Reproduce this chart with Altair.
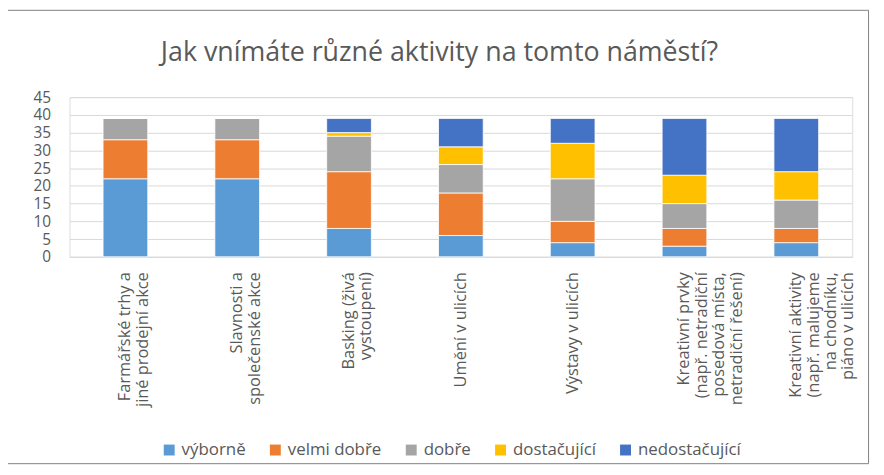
import altair as alt
import pandas as pd

categories = [
    "Farmářské trhy a|jiné prodejní akce",
    "Slavnosti a|společenské akce",
    "Basking (živá|vystoupení)",
    "Umění v ulicích",
    "Výstavy v ulicích",
    "Kreativní prvky|(např. netradiční|posedová místa,|netradiční řešení)",
    "Kreativní aktivity|(např. malujeme|na chodníku,|piáno v ulicích",
]
series_names = ["výborně", "velmi dobře", "dobře", "dostačující", "nedostačující"]
vyborne = [22, 22, 8, 6, 4, 3, 4]
velmi_dobre = [11, 11, 16, 12, 6, 5, 4]
dobre = [6, 6, 10, 8, 12, 7, 8]
dostacujici = [0, 0, 1, 5, 10, 8, 8]
nedostacujici = [0, 0, 4, 8, 7, 16, 15]
colors = ["#5B9BD5", "#ED7D31", "#A5A5A5", "#FFC000", "#4472C4"]
title_text = "Jak vnímáte různé aktivity na tomto náměstí?"

series_values = [vyborne, velmi_dobre, dobre, dostacujici, nedostacujici]
rows = []
for si, (name, vals) in enumerate(zip(series_names, series_values)):
    for cat, v in zip(categories, vals):
        rows.append({"cat": cat, "serie": name, "value": v, "ord": si})
df = pd.DataFrame(rows)

FONT = "Open Sans"
GREY = "#595959"
W, H = 789, 161

bars = alt.Chart(df).mark_bar(stroke="white", strokeWidth=0.8).encode(
    x=alt.X("cat:N", sort=categories, title=None,
            scale=alt.Scale(paddingInner=0.6, paddingOuter=0.3),
            axis=alt.Axis(labelAngle=-90, labelExpr="split(datum.label, '|')",
                          labelFontSize=16.5, labelColor=GREY, labelFont=FONT,
                          labelLineHeight=17.5, labelPadding=15, ticks=False,
                          domainColor="#D9D9D9", domainWidth=1, labelLimit=300)),
    y=alt.Y("value:Q", title=None, stack="zero",
            scale=alt.Scale(domain=[0, 45], nice=False),
            axis=alt.Axis(values=list(range(0, 50, 5)), labelFontSize=15.5,
                          labelColor=GREY, labelFont=FONT, labelPadding=19,
                          ticks=False, domain=False, gridColor="#D9D9D9",
                          gridWidth=1)),
    color=alt.Color("serie:N", sort=series_names,
                    scale=alt.Scale(domain=series_names, range=colors),
                    legend=alt.Legend(orient="none", direction="horizontal",
                                      legendX=92, legendY=347, title=None,
                                      symbolType="square", symbolSize=121,
                                      symbolStrokeWidth=0, labelFontSize=17,
                                      labelFont=FONT, labelColor=GREY,
                                      labelOffset=4, columnPadding=21,
                                      padding=0)),
    order=alt.Order("ord:Q", sort="ascending"),
)

title = alt.Chart(alt.Data(values=[{"t": title_text}])).mark_text(
    font=FONT, fontSize=27, color=GREY, align="center", baseline="alphabetic"
).encode(x=alt.value(373), y=alt.value(-36), text="t:N")

border = alt.Chart(alt.Data(values=[{}])).mark_rect(
    fill=None, stroke="#7F7F7F", strokeWidth=1
).encode(x=alt.value(-62.5), x2=alt.value(805.5), y=alt.value(-87.5),
         y2=alt.value(369.5))

chart = alt.layer(bars, title, border).properties(
    width=W, height=H,
    autosize=alt.AutoSizeParams(type="none"),
    padding={"left": 62, "top": 88, "right": 24, "bottom": 209},
).configure_view(stroke=None).configure(background="white")

chart.save("out.html", embed_options={"renderer": "svg", "actions": False})
